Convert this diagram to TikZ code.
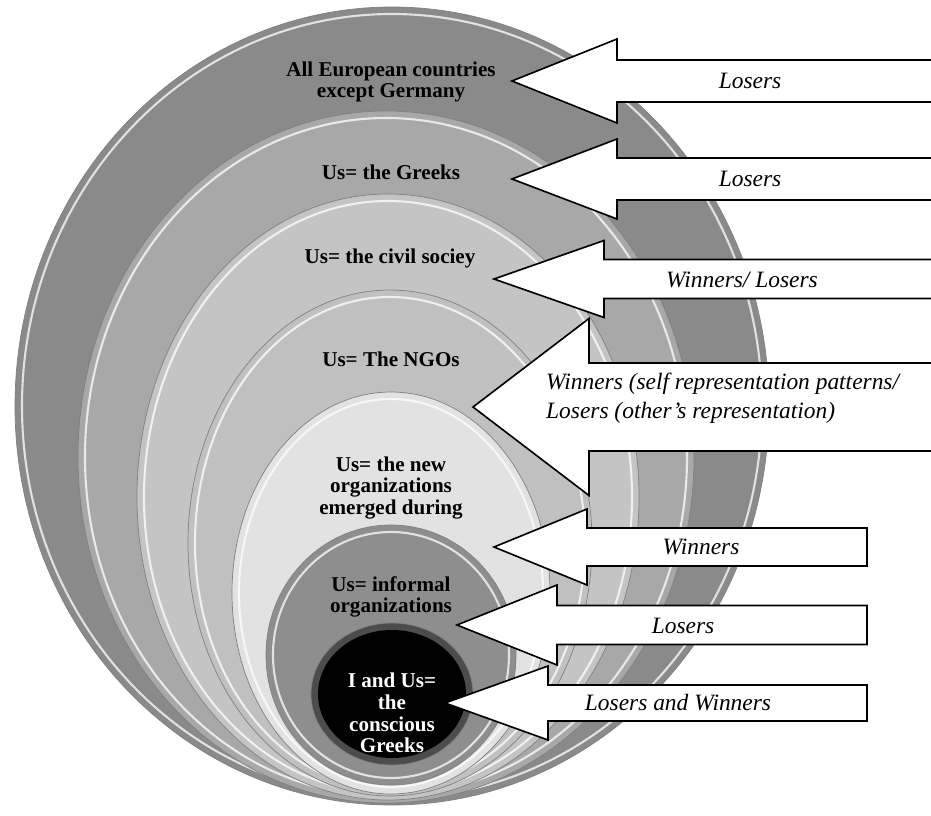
\documentclass[tikz,border=0pt]{standalone}
\usepackage{fontspec}
\setmainfont{Liberation Serif}
\usepackage{xcolor}
\usepackage{tikz}
\definecolor{eugray}{HTML}{8A8A8A}
\definecolor{grgray}{HTML}{A8A8A8}
\definecolor{csgray}{HTML}{C4C4C4}
\definecolor{ngogray}{HTML}{C0C0C0}
\definecolor{newgray}{HTML}{E2E2E2}
\definecolor{infgray}{HTML}{8E8E8E}
\tikzstyle{disc} = [draw=black!50, line width=0.6pt]
\tikzstyle{rim} = [draw=white, line width=1.8pt, opacity=0.75]
\tikzstyle{label} = [align=center, font=\bfseries\fontsize{18}{18.5}\selectfont]
\tikzstyle{arrowbox} = [draw, fill=white, line width=1.4pt, line join=miter]
\tikzstyle{tag} = [font=\itshape\fontsize{20}{24.5}\selectfont]
% tip x, tip y, head base x, right end x, shaft half height, head half height
\newcommand{\leftblock}[6]{\draw[arrowbox] (#1,#2) -- (#3,#2-#6) -- (#3,#2-#5) -- (#4,#2-#5) -- (#4,#2+#5) -- (#3,#2+#5) -- (#3,#2+#6) -- cycle;}

\begin{document}
\begin{tikzpicture}[x=0.03cm, y=-0.03cm]
        \useasboundingbox (0,0) rectangle (931,815);
        \clip (0,0) rectangle (931,815);
        % Draw rings
        \foreach \cx/\cy/\rx/\ry/\col in {392/406/377/399/eugray, 386/457/308/346/grgray, 388/497/251/303/csgray, 390/543/202/253/ngogray, 391/593/159/201/newgray, 391/655/125/130/infgray}{
            \draw[disc, fill=\col] (\cx,\cy) ellipse [x radius=\rx, y radius=\ry];
            \draw[rim] (\cx,\cy) ellipse [x radius=\rx-7, y radius=\ry-7];
        }
        \draw[disc, fill=black!70] (392,694) ellipse [x radius=81, y radius=71];
        \fill[black] (392,694) ellipse [x radius=74, y radius=64];
        % Place nodes
        \node[label] (eu) at (391,82) {All European countries\\except Germany};
        \node[label] (greeks) at (391,172) {Us= the Greeks};
        \node[label] (civil) at (390,258) {Us= the civil sociey};
        \node[label] (ngos) at (391,359) {Us= The NGOs};
        \node[label] (neworg) at (391,488) {Us= the new\\organizations\\emerged during};
        \node[label] (informal) at (391,597) {Us= informal\\organizations};
        \node[label, text=white] (self) at (392,713) {I and Us=\\the\\conscious\\Greeks};
        % Draw arrows
        \leftblock{512}{81}{617}{960}{21}{42}
        \leftblock{512}{179}{617}{960}{21}{40}
        \leftblock{494}{279}{604}{960}{19.5}{38.5}
        \leftblock{473}{407}{589}{960}{44}{88.5}
        \leftblock{494}{547}{587}{867}{19}{38}
        \leftblock{457}{625}{557}{867}{19.5}{40}
        \leftblock{445}{703}{548}{867}{18}{37}
        \node[tag] (l1) at (750,81) {Losers};
        \node[tag] (l2) at (750,179) {Losers};
        \node[tag] (l3) at (742,280) {Winners/ Losers};
        \node[tag, align=left, anchor=west] (l4) at (542,398) {Winners (self representation patterns/\\Losers (other’s representation)};
        \node[tag] (l5) at (701,547) {Winners};
        \node[tag] (l6) at (683,626) {Losers};
        \node[tag] (l7) at (678,703) {Losers and Winners};
\end{tikzpicture}
\end{document}
